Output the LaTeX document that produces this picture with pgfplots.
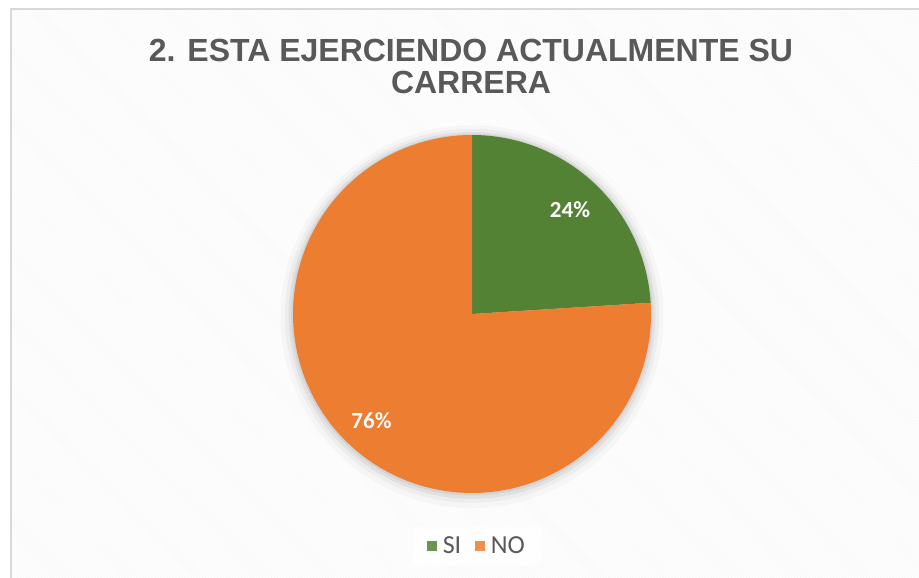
\documentclass[border=0pt]{standalone}
\usepackage{pgfplots}
\pgfplotsset{compat=1.18}
\usepackage{pgfplotstable}
\usepackage{fontspec}
\setmainfont{Liberation Sans}
\newfontfamily\calibri{Carlito}
\usetikzlibrary{patterns}
\definecolor{cSI}{HTML}{548235}
\definecolor{cNO}{HTML}{ED7D31}
\definecolor{ctxt}{HTML}{595959}
\pgfplotstableread{
label value
SI 24
NO 76
}\piedata
\pgfplotstablegetelem{0}{value}\of\piedata \let\vSI\pgfplotsretval
\pgfplotstablegetelem{1}{value}\of\piedata \let\vNO\pgfplotsretval
\pgfmathsetmacro\aStart{90}
\pgfmathsetmacro\aMid{90-3.6*\vSI}
\pgfmathsetmacro\aEnd{\aMid-3.6*\vNO}
\pgfmathsetmacro\mSI{(\aStart+\aMid)/2}
\pgfmathsetmacro\mNO{(\aMid+\aEnd)/2}
\begin{document}
\begin{tikzpicture}
\useasboundingbox (0,0) rectangle (919bp,578bp);
\fill[white] (11bp,0) rectangle (919bp,569bp);
\fill[pattern=north west lines, pattern color=black!4] (11bp,0) rectangle (919bp,569bp);
\draw[black!15, line width=1.2bp] (11bp,0) -- (11bp,569bp) -- (919bp,569bp);
\node[font=\bfseries\fontsize{32bp}{33bp}\selectfont, text=ctxt, align=center] at (471bp,511.5bp)
  {2. ESTA EJERCIENDO ACTUALMENTE SU\\[-0.5bp]CARRERA};
\begin{axis}[
  at={(472bp,264bp)}, anchor=center,
  width=358bp, height=358bp, scale only axis,
  xmin=-1, xmax=1, ymin=-1, ymax=1,
  hide axis, clip=false,
  legend columns=2,
  legend style={at={(0.514,-0.148)}, anchor=center, draw=none, fill=white, fill opacity=0.85, text opacity=1,
    inner xsep=14bp, inner ysep=8bp,
    font=\calibri\fontsize{26bp}{27bp}\selectfont, text=ctxt,
    /tikz/every even column/.append style={column sep=12bp}},
  legend image code/.code={\fill[#1] (0bp,-5bp) rectangle (10bp,5bp); \path (13.5bp,0bp);},
]
% soft shadow
\addplot[draw=none, fill=black, fill opacity=0.025, domain=0:360, samples=120, forget plot] ({1.07*cos(x)},{1.07*sin(x)-0.015});
\addplot[draw=none, fill=black, fill opacity=0.035, domain=0:360, samples=120, forget plot] ({1.045*cos(x)},{1.045*sin(x)-0.01});
\addplot[draw=none, fill=black, fill opacity=0.05, domain=0:360, samples=120, forget plot] ({1.025*cos(x)},{1.025*sin(x)-0.008});
\addplot[draw=none, fill=black, fill opacity=0.06, domain=0:360, samples=120, forget plot] ({1.01*cos(x)},{1.01*sin(x)-0.004});
\addplot[draw=none, fill=cSI, domain=\aMid:\aStart, samples=80] ({cos(x)},{sin(x)}) -- (axis cs:0,0) -- cycle;
\addlegendentry{SI}
\addplot[draw=none, fill=cNO, domain=\aEnd:\aMid, samples=200] ({cos(x)},{sin(x)}) -- (axis cs:0,0) -- cycle;
\addlegendentry{NO}
\node[text=white, font=\calibri\bfseries\fontsize{23bp}{24bp}\selectfont] at (axis cs:{0.8*cos(\mSI)},{0.8*sin(\mSI)}) {\vSI\%};
\node[text=white, font=\calibri\bfseries\fontsize{23bp}{24bp}\selectfont] at (axis cs:{0.82*cos(\mNO)},{0.82*sin(\mNO)}) {\vNO\%};
\end{axis}
\end{tikzpicture}
\end{document}
